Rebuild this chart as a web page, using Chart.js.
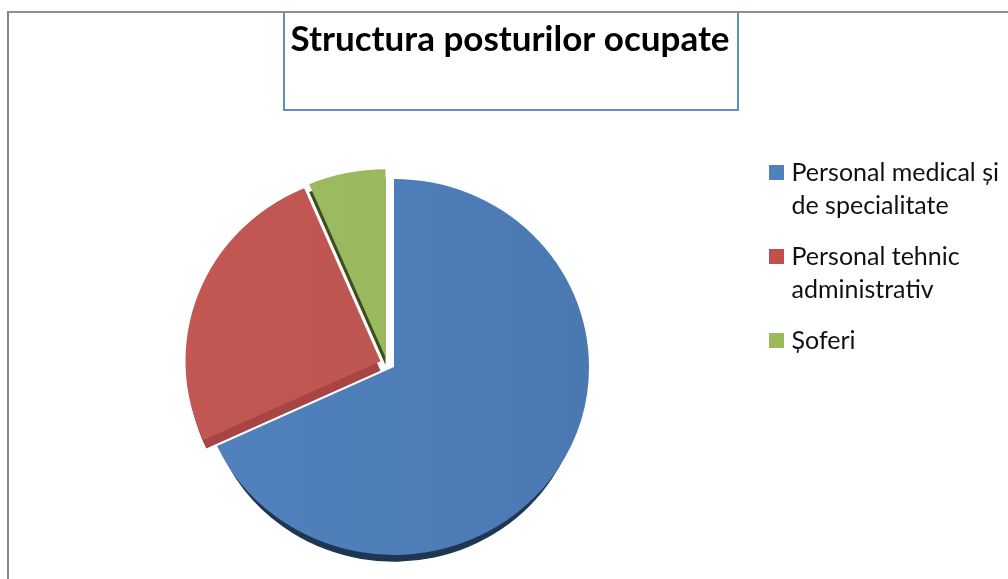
<!DOCTYPE html>
<html>
<head>
<meta charset="utf-8">
<title>Structura posturilor ocupate</title>
<script src="https://cdn.jsdelivr.net/npm/chart.js@4"></script>
<style>
  html, body { margin: 0; padding: 0; background: #fff; overflow: hidden; }
  #wrap { position: relative; width: 1008px; height: 579px; overflow: hidden; }
  #frame { position: absolute; left: 7px; top: 11px; width: 1100px; height: 700px; border-left: 2px solid #868686; border-top: 2px solid #8e8e8e; }
  #titleBox { position: absolute; left: 283px; top: 12px; width: 452px; height: 97px; border: 2px solid #5f8dc6; border-top: 0; }
  canvas { position: absolute; left: 0; top: 0; }
</style>
</head>
<body>
<div id="wrap">
  <div id="frame"></div>
  <div id="titleBox"></div>
  <canvas id="myChart" width="1008" height="579"></canvas>
</div>
<script>
// values (percent of occupied posts)
const categories = [['Personal medical și', 'de specialitate'], ['Personal tehnic', 'administrativ'], ['Șoferi']];
const posts = [68.1, 25.5, 6.4];

const legendColours = ['#4f81bd', '#c0504d', '#9bbb59'];
const leftColours = ['#5282be', '#c25753', '#9dbc60'];
const rightColours = ['#4a79b2', '#b85450', '#98b65c'];
const sideColours = ['#1f3652', '#a64543', '#3d4e20'];

// where each slice sits relative to the chart area centre, in px
const shiftX = [10.5, -3, 2];
const shiftY = [2, -4, -8];
// side wall: how far it drops and how much smaller it is than the slice
const depth = [14, 10, 8];
const inset = [7, 3, 0];
const squash = 188 / 195;
const legendDrop = 142;

const ctx = document.getElementById('myChart').getContext('2d');

function sliceFill(i) {
    const g = ctx.createLinearGradient(185, 0, 590, 0);
    g.addColorStop(0, leftColours[i]);
    g.addColorStop(1, rightColours[i]);
    return g;
}

// pulls slices apart, flattens the pie a little and draws the dark side walls
const tiltedPie = {
    id: 'tiltedPie',
    afterLayout(chart) {
        chart.legend.top += legendDrop;
        chart.legend.bottom += legendDrop;
    },
    afterDatasetsUpdate(chart) {
        chart.getDatasetMeta(0).data.forEach((arc, i) => {
            arc.x += shiftX[i];
            arc.y += shiftY[i];
        });
    },
    beforeDatasetsDraw(chart) {
        const c = chart.ctx;
        const area = chart.chartArea;
        const cy = (area.top + area.bottom) / 2;
        c.save();
        c.translate(0, cy);
        c.scale(1, squash);
        c.translate(0, -cy);
        chart.getDatasetMeta(0).data.forEach((arc, i) => {
            const saved = arc.options;
            const savedRadius = arc.outerRadius;
            arc.options = Object.assign({}, saved, { backgroundColor: sideColours[i] });
            arc.outerRadius = savedRadius - inset[i];
            c.save();
            c.translate(0, depth[i]);
            arc.draw(c);
            c.restore();
            arc.options = saved;
            arc.outerRadius = savedRadius;
        });
    },
    afterDatasetsDraw(chart) {
        chart.ctx.restore();
    }
};

const myChart = new Chart(ctx, {
    type: 'pie',
    data: {
        labels: categories,
        datasets: [{
            data: posts,
            backgroundColor: [sliceFill(0), sliceFill(1), sliceFill(2)],
            borderWidth: 0,
            radius: 195,
            clip: false
        }]
    },
    options: {
        responsive: false,
        animation: false,
        layout: { padding: { left: 11, right: -1 } },
        plugins: {
            tooltip: { enabled: false },
            title: {
                display: true,
                text: 'Structura posturilor ocupate',
                color: '#000',
                font: { family: 'Lato', size: 35, weight: 'bold', lineHeight: 1.2 },
                padding: { top: 19, bottom: 90 }
            },
            legend: {
                position: 'right',
                align: 'start',
                labels: {
                    color: '#111',
                    font: { family: 'Lato', size: 25, lineHeight: 1.32 },
                    // thin box plus a thick outline, so the text sits closer to the square
                    boxWidth: 5,
                    boxHeight: 5,
                    padding: 18,
                    generateLabels(chart) {
                        const items = Chart.controllers.pie.overrides.plugins.legend.labels.generateLabels(chart);
                        items.forEach((item, i) => {
                            item.fillStyle = legendColours[i];
                            item.strokeStyle = legendColours[i];
                            item.lineWidth = 10;
                        });
                        return items;
                    }
                }
            }
        }
    },
    plugins: [tiltedPie]
});
</script>
</body>
</html>
